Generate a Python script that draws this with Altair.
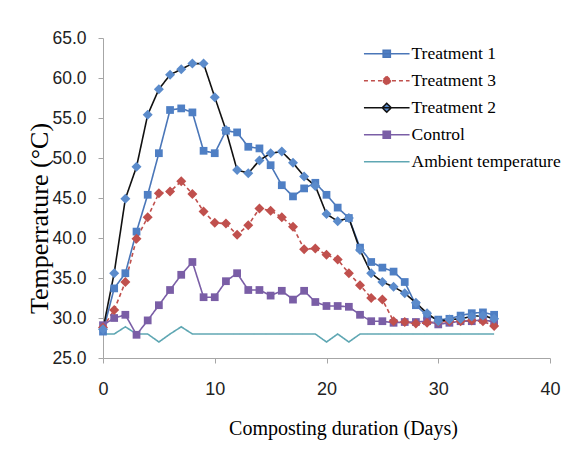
import altair as alt
import pandas as pd

days = list(range(36))

treatment1 = [28.3, 33.7, 35.6, 40.8, 45.4, 50.6, 56.0, 56.2, 55.7, 50.9,
              50.6, 53.4, 53.2, 51.4, 51.2, 49.1, 46.6, 45.2, 46.2, 46.9,
              45.4, 43.8, 42.5, 38.8, 37.0, 36.3, 35.8, 34.5, 31.6, 30.3,
              29.8, 29.9, 30.3, 30.6, 30.7, 30.4]
treatment2 = [28.6, 35.6, 44.9, 48.9, 55.4, 58.6, 60.4, 61.1, 61.8, 61.8,
              57.6, 53.5, 48.5, 48.1, 49.7, 50.6, 50.8, 49.4, 47.7, 46.5,
              43.0, 42.1, 42.5, 38.5, 35.6, 34.5, 33.9, 33.1, 31.9, 30.6,
              29.6, 29.8, 29.9, 30.2, 30.3, 29.9]
treatment3 = [28.8, 31.0, 34.5, 39.9, 42.6, 45.6, 45.8, 47.1, 45.5, 43.3,
              41.9, 41.8, 40.4, 41.6, 43.7, 43.4, 42.6, 41.4, 38.6, 38.7,
              37.9, 37.3, 35.6, 34.1, 32.5, 32.3, 29.6, 29.5, 29.3, 29.4,
              29.5, 29.6, 29.6, 29.7, 29.6, 29.0]
control = [29.1, 30.0, 30.4, 27.9, 29.7, 31.6, 33.5, 35.4, 37.0, 32.6,
           32.6, 34.6, 35.6, 33.5, 33.5, 32.8, 33.4, 32.3, 33.4, 32.0,
           31.5, 31.5, 31.4, 30.4, 29.6, 29.6, 29.4, 29.5, 29.5, 29.6,
           29.2, 29.4, 29.6, 29.6, 29.8, 29.5]
ambient = [28.0, 28.0, 28.9, 28.0, 28.0, 27.0, 28.0, 28.9, 28.0, 28.0,
           28.0, 28.0, 28.0, 28.0, 28.0, 28.0, 28.0, 28.0, 28.0, 28.0,
           27.0, 28.0, 27.0, 28.0, 28.0, 28.0, 28.0, 28.0, 28.0, 28.0,
           28.0, 28.0, 28.0, 28.0, 28.0, 28.0]

series_names = ["Treatment 1", "Treatment 3", "Treatment 2", "Control", "Ambient temperature"]
series_values = [treatment1, treatment3, treatment2, control, ambient]

x_ticks = [0, 10, 20, 30, 40]
y_ticks = [25, 30, 35, 40, 45, 50, 55, 60, 65]

line_colors = ["#4A76B8", "#C0504D", "#111111", "#7A5EA6", "#5FA7B3"]
marker_colors = ["#4F7FC4", "#C0504D", "#5B8BCB", "#7A5EA6", "#5FA7B3"]
dashes = [[1, 0], [4, 3], [1, 0], [1, 0], [1, 0]]
legend_paths = [
    "M-3.8,0H3.8M-0.6,-0.6H0.6V0.6H-0.6Z",
    "M-3.8,0H3.8M0,-0.75L0.75,0L0,0.75L-0.75,0Z",
    "M-3.8,0H3.8M0,-0.75L0.75,0L0,0.75L-0.75,0Z",
    "M-3.8,0H3.8M-0.6,-0.6H0.6V0.6H-0.6Z",
    "M-3.8,0H3.8",
]

rows = []
for name, vals in zip(series_names, series_values):
    for d, v in zip(days, vals):
        rows.append({"series": name, "day": d, "temp": v})
df = pd.DataFrame(rows)

serif = "Liberation Serif, Times New Roman, serif"
sans = "Liberation Sans Narrow, Arial Narrow, Liberation Sans, sans-serif"

leg = alt.Legend(
    title=None, orient="none", legendX=275, legendY=7,
    symbolSize=144, symbolStrokeWidth=1.5, symbolOpacity=1,
    labelFont=serif, labelFontSize=17.5, labelColor="#000000",
    labelOffset=16, labelLimit=220, rowPadding=8, padding=0,
)

base = alt.Chart(df).encode(
    x=alt.X("day:Q", scale=alt.Scale(domain=[0, 40], nice=False),
            axis=alt.Axis(values=x_ticks, title="Composting duration (Days)", grid=False,
                          domainColor="#A6A6A6", tickColor="#A6A6A6", tickSize=5,
                          labelFont=sans, labelFontSize=18, labelColor="#222222",
                          labelPadding=17, labelFlush=False,
                          titleFont=serif, titleFontSize=20, titleFontWeight="normal",
                          titleColor="#000000", titleX=240, titleY=70,
                          titleBaseline="middle")),
    y=alt.Y("temp:Q", scale=alt.Scale(domain=[25, 65], zero=False, nice=False),
            axis=alt.Axis(values=y_ticks, format=".1f", title="Temperrature (°C)", grid=False,
                          domainColor="#A6A6A6", tickColor="#A6A6A6", tickSize=5,
                          labelFont=sans, labelFontSize=17.5, labelColor="#222222",
                          labelPadding=12, labelFlush=False,
                          titleFont=serif, titleFontSize=26, titleFontWeight="normal",
                          titleColor="#000000", titleX=-64, titleY=180,
                          titleBaseline="middle")),
)

stroke_enc = alt.Stroke("series:N", scale=alt.Scale(domain=series_names, range=line_colors), legend=leg)
dash_enc = alt.StrokeDash("series:N", scale=alt.Scale(domain=series_names, range=dashes), legend=leg)
fill_enc = alt.Fill("series:N", scale=alt.Scale(domain=series_names, range=marker_colors), legend=leg)
shape_enc = alt.Shape("series:N", scale=alt.Scale(domain=series_names, range=legend_paths), legend=leg)

lines = base.mark_line(strokeWidth=1.6).encode(stroke=stroke_enc, strokeDash=dash_enc, detail="series:N")

squares = base.transform_filter(
    alt.FieldOneOfPredicate(field="series", oneOf=["Treatment 1", "Control"])
).mark_point(shape="square", filled=True, size=60, opacity=1).encode(fill=fill_enc)

diamonds = base.transform_filter(
    alt.FieldOneOfPredicate(field="series", oneOf=["Treatment 3", "Treatment 2"])
).mark_point(shape="diamond", filled=True, size=100, opacity=1).encode(fill=fill_enc)

legend_layer = base.transform_filter("datum.day < 0").mark_point(filled=True, opacity=1).encode(
    shape=shape_enc, stroke=stroke_enc, fill=fill_enc, strokeDash=dash_enc
)

chart = alt.layer(lines, squares, diamonds, legend_layer).properties(
    width=447, height=320,
    autosize=alt.AutoSizeParams(type="none"),
    padding={"left": 95, "top": 30, "right": 12, "bottom": 98},
    background="#FFFFFF",
).configure_view(strokeWidth=0)

chart.save("out.html", embed_options={"renderer": "svg", "actions": False})
